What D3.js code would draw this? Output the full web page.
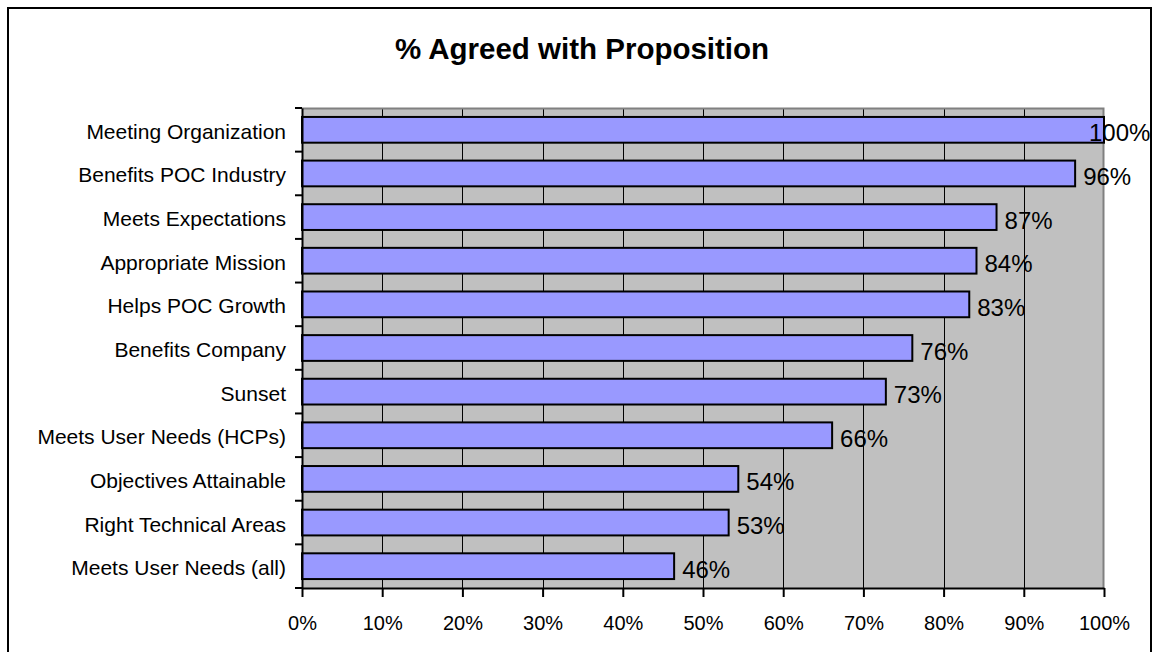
<!DOCTYPE html>
<html>
<head>
<meta charset="utf-8">
<script src="https://cdn.jsdelivr.net/npm/d3@7"></script>
<style>
  html,body{margin:0;padding:0;background:#fff;}
  svg{display:block;font-family:Arial,"Liberation Sans",sans-serif;}
</style>
</head>
<body>
<div id="chart"></div>
<script>
// data, top to bottom as drawn
const categories=['Meeting Organization','Benefits POC Industry','Meets Expectations','Appropriate Mission','Helps POC Growth','Benefits Company','Sunset','Meets User Needs (HCPs)','Objectives Attainable','Right Technical Areas','Meets User Needs (all)'];
const values=[1.000,0.964,0.866,0.841,0.832,0.761,0.728,0.661,0.544,0.532,0.464];
const xTicks=[0,0.1,0.2,0.3,0.4,0.5,0.6,0.7,0.8,0.9,1.0];
const title='% Agreed with Proposition';

const W=1155,H=652,m={t:108,r:51,b:64,l:302};
const w=W-m.l-m.r,h=H-m.t-m.b;
const svg=d3.select('#chart').append('svg').attr('width',W).attr('height',H);

// outer frame
svg.append('rect').attr('x',8).attr('y',8).attr('width',1143).attr('height',H+20)
  .attr('fill','#fff').attr('stroke','#000').attr('stroke-width',2);

svg.append('text').attr('x',582).attr('y',59).attr('text-anchor','middle')
  .attr('font-size',29.5).attr('font-weight','700').attr('fill','#000').text(title);

const g=svg.append('g').attr('transform',`translate(${m.l},${m.t})`);
const x=d3.scaleLinear().domain([0,1]).range([0,w]);
const y=d3.scaleBand().domain(categories).range([0,h]).padding(0);
const barH=y.bandwidth()*0.59;

// plot background
g.append('rect').attr('width',w).attr('height',h).attr('fill','#c0c0c0');
// vertical gridlines
g.selectAll('.gl').data(xTicks.filter(d=>d>0&&d<1)).join('line').attr('class','gl')
  .attr('x1',d=>Math.round(x(d))+0.5).attr('x2',d=>Math.round(x(d))+0.5).attr('y1',0).attr('y2',h)
  .attr('stroke','#000').attr('stroke-width',1);
// plot border top/right (grey)
g.append('path').attr('d',`M0,0.5H${w-0.5}V${h}`).attr('fill','none').attr('stroke','#808080').attr('stroke-width',2);

// bars
g.selectAll('.bar').data(values).join('rect').attr('class','bar')
  .attr('x',0).attr('y',(d,i)=>y(categories[i])+(y.bandwidth()-barH)/2)
  .attr('width',d=>x(d)).attr('height',barH)
  .attr('fill','#9999ff').attr('stroke','#000').attr('stroke-width',2);

// data labels (kept inside the frame)
g.selectAll('.dl').data(values).join('text').attr('class','dl')
  .attr('x',d=>Math.min(x(d)+8,787)).attr('y',(d,i)=>y(categories[i])+y.bandwidth()/2+11.5)
  .attr('font-size',24).attr('fill','#000').text(d=>d3.format('.0%')(d));

// x axis
const xa=g.append('g').attr('transform',`translate(0,${h})`)
  .call(d3.axisBottom(x).tickValues(xTicks).tickFormat(d3.format('.0%')).tickSize(9).tickSizeOuter(0));
xa.select('.domain').attr('stroke','#000').attr('stroke-width',2);
xa.selectAll('.tick line').attr('stroke','#000').attr('stroke-width',2);
xa.selectAll('.tick text').attr('font-size',20).attr('fill','#000').attr('dy',null).attr('y',42).attr('font-family',null);

// y axis
const ya=g.append('g').call(d3.axisLeft(y).tickSize(0).tickPadding(16));
ya.select('.domain').attr('stroke','#000').attr('stroke-width',2);
ya.selectAll('.tick text').attr('font-size',21).attr('fill','#000').attr('dy',null).attr('y',9).attr('font-family',null);
g.selectAll('.yt').data(d3.range(categories.length+1)).join('line').attr('class','yt')
  .attr('x1',-7).attr('x2',0).attr('y1',i=>i*y.step()).attr('y2',i=>i*y.step())
  .attr('stroke','#000').attr('stroke-width',2);
</script>
</body>
</html>
